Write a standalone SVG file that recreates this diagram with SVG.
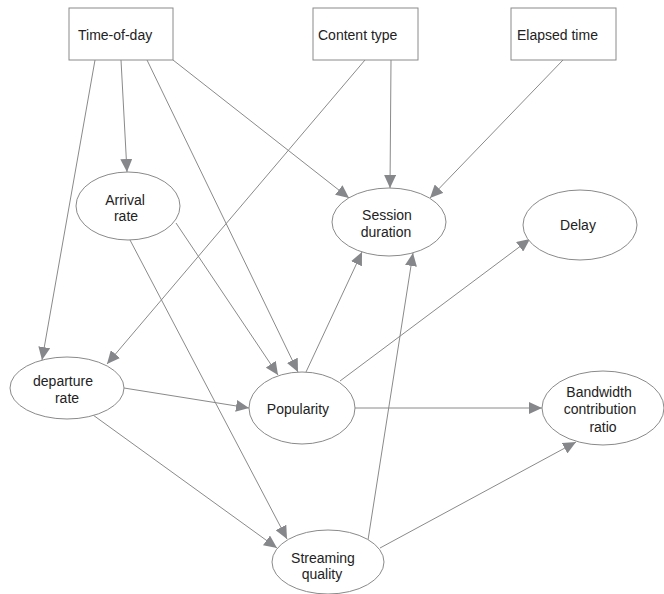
<svg xmlns="http://www.w3.org/2000/svg" width="664" height="594" viewBox="0 0 664 594">
<defs>
<marker id="ah" markerUnits="userSpaceOnUse" markerWidth="14" markerHeight="12" refX="13" refY="6" orient="auto">
<path d="M0,0 L13,6 L0,12 Z" fill="#86878a"/>
</marker>
<style>
.n rect,.n ellipse{fill:#fff;stroke:#8a8a8a;stroke-width:1}
.n text{font-family:"Liberation Sans",Arial,sans-serif;font-size:14px;fill:#222}
.c{text-anchor:middle}
#edges line{stroke:#8a8a8a;stroke-width:1;marker-end:url(#ah)}
</style>
</defs>
<rect width="664" height="594" fill="#fff"/>
<g id="edges">
<line x1="95" y1="60" x2="42" y2="360"/>
<line x1="121" y1="60" x2="127" y2="172"/>
<line x1="147" y1="60" x2="298" y2="372"/>
<line x1="173" y1="60" x2="349" y2="198"/>
<line x1="365" y1="60" x2="107" y2="364"/>
<line x1="391" y1="60" x2="390" y2="188"/>
<line x1="563" y1="60" x2="430" y2="198"/>
<line x1="176" y1="223" x2="278" y2="375"/>
<line x1="130" y1="240" x2="287" y2="539"/>
<line x1="124" y1="388" x2="249" y2="408"/>
<line x1="93" y1="415" x2="277" y2="548"/>
<line x1="306" y1="372" x2="362" y2="252"/>
<line x1="340" y1="381" x2="530" y2="239"/>
<line x1="355" y1="408" x2="542" y2="408"/>
<line x1="368" y1="540" x2="413" y2="253"/>
<line x1="380" y1="548" x2="576" y2="442"/>
</g>
<g id="time-of-day" class="n"><rect x="69" y="8" width="104" height="52"/><text x="78" y="40">Time-of-day</text></g>
<g id="content-type" class="n"><rect x="313" y="8" width="105" height="52"/><text x="318" y="40">Content type</text></g>
<g id="elapsed-time" class="n"><rect x="511" y="8" width="105" height="52"/><text x="517" y="40">Elapsed time</text></g>
<g id="arrival-rate" class="n"><ellipse cx="128" cy="206" rx="52" ry="34"/><text class="c" x="125" y="205">Arrival</text><text class="c" x="126" y="221">rate</text></g>
<g id="session-duration" class="n"><ellipse cx="389" cy="222" rx="57" ry="34"/><text class="c" x="387" y="220">Session</text><text class="c" x="386" y="237">duration</text></g>
<g id="delay" class="n"><ellipse cx="580" cy="225" rx="57" ry="35"/><text class="c" x="578" y="230">Delay</text></g>
<g id="departure-rate" class="n"><ellipse cx="67" cy="388" rx="57" ry="31"/><text class="c" x="63" y="386">departure</text><text class="c" x="67" y="403">rate</text></g>
<g id="popularity" class="n"><ellipse cx="302" cy="408" rx="53" ry="36"/><text class="c" x="298" y="414">Popularity</text></g>
<g id="streaming-quality" class="n"><ellipse cx="328" cy="562" rx="56" ry="32"/><text class="c" x="323" y="563">Streaming</text><text class="c" x="322" y="579">quality</text></g>
<g id="bandwidth" class="n"><ellipse cx="603" cy="408" rx="61" ry="37"/><text class="c" x="599" y="397">Bandwidth</text><text class="c" x="600" y="414">contribution</text><text class="c" x="603" y="432">ratio</text></g>
</svg>
